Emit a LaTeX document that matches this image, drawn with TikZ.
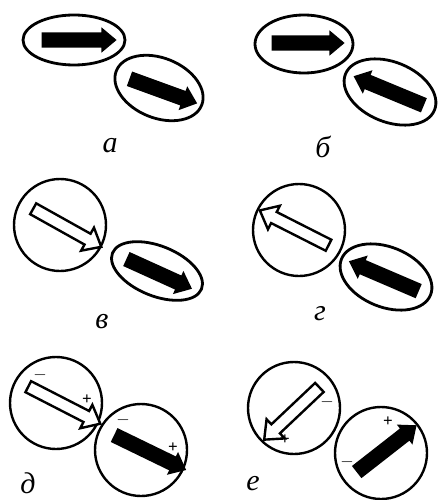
\documentclass[tikz,border=0pt]{standalone}
\usepackage{fontspec}
\setmainfont{Liberation Serif}
\usetikzlibrary{shapes.geometric,shapes.arrows}
\tikzset{
  ov/.style={draw,line width=2.8pt,ellipse,inner sep=0pt},
  ci/.style={draw,line width=2.4pt,circle,inner sep=0pt,minimum size=92pt},
  fa/.style={single arrow,fill=black,inner xsep=0pt,inner ysep=7.5pt,single arrow head extend=5pt,single arrow tip angle=80,minimum width=0pt},
  ha/.style={single arrow,draw,fill=white,line width=2.4pt,inner xsep=0pt,inner ysep=5pt,single arrow head extend=7pt,single arrow tip angle=80,minimum width=0pt},
  lb/.style={font=\itshape\fontsize{30}{32}\selectfont,anchor=base,inner sep=0pt},
  sg/.style={font=\bfseries\fontsize{17}{17}\selectfont,inner sep=0pt}
}
\begin{document}
\begin{tikzpicture}[x=1pt,y=-1pt]
\useasboundingbox (0,0) rectangle (437,500);
% ellipses and circles
\foreach \n/\x/\y/\w/\h/\r in {a1/74/40/102/50/0,a2/159/88/92/60/-22,b1/304/44/98/58/0,b2/390/92/96/60/-22,v2/157/271/96/50/-22,g2/386/277/96/60/-22}{\node[ov,minimum width=\w pt,minimum height=\h pt,rotate=\r] (o\n) at (\x,\y) {};}
\foreach \n/\x/\y in {v1/60/225,g1/299/230,d1/56/403,d2/141/450,e1/294/408,e2/381/453}{\node[ci] (o\n) at (\x,\y) {};}
% arrows
\foreach \n/\x/\y/\l/\r in {a1/74.5/40/75/0,a2/159/89.5/72/-20,b1/303.5/43/73/0,b2/393/92.5/76/157.5,v2/155/272/72/-24.4,g2/388/278/76/156.8,d2/146/450.5/80/-25.9,e2/383/451.5/76/38}{\node[fa,minimum height=\l pt,rotate=\r] (r\n) at (\x,\y) {};}
\foreach \n/\x/\y/\l/\r in {v1/64/226/78/-29.2,g1/297.5/229.5/77/153.1,d1/61/403.5/81/-27.2,e1/294.5/411/76/-136.6}{\node[ha,minimum height=\l pt,rotate=\r] (r\n) at (\x,\y) {};}
% signs
\foreach \n/\x/\y/\s in {d1m/40/375/$-$,d1p/87/400/+,d2m/123/420/$-$,d2p/173/448/+,e1m/327/402/$-$,e1p/285/440/+,e2p/388/422/+,e2m/347/462/$-$}{\node[sg] (s\n) at (\x,\y) {\s};}
% labels
\foreach \n/\x/\y/\t in {a/110/152/а,b/323/157/б,v/102/328/в,g/320/320/г,d/28/493/д,e/253/490/е}{\node[lb] (l\n) at (\x,\y) {\t};}
\end{tikzpicture}
\end{document}
